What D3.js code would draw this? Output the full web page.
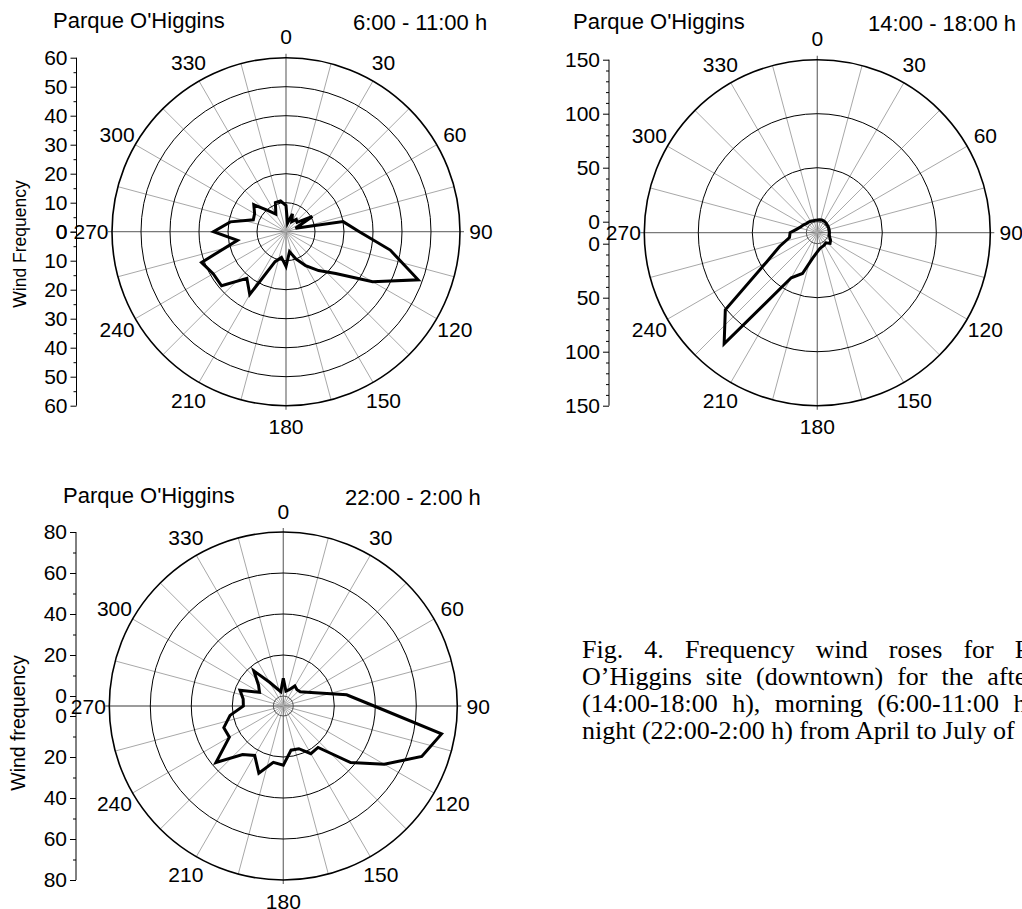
<!DOCTYPE html>
<html>
<head>
<meta charset="utf-8">
<script src="https://cdn.jsdelivr.net/npm/d3@7"></script>
<style>
  html, body { margin: 0; padding: 0; background: #fff; overflow: hidden; width: 1022px; height: 909px; }
  svg { position: absolute; left: 0; top: 0; }
  #caption {
    position: absolute; left: 582px; top: 636px; width: 505px;
    font-family: "Liberation Serif", "Times New Roman", serif;
    font-size: 26px; line-height: 27px; text-align: justify; color: #000;
  }
</style>
</head>
<body>
<svg id="chart" width="1022" height="909"></svg>
<div id="caption">Fig. 4. Frequency wind roses for Parque O’Higgins site (downtown) for the afternoon (14:00-18:00 h), morning (6:00-11:00 h) and night (22:00-2:00 h) from April to July of</div>
<script>
// --- data ---
const directions = [0, 10, 20, 30, 40, 50, 60, 70, 80, 90, 100, 110, 120, 130, 140, 150, 160, 170,
  180, 190, 200, 210, 220, 230, 240, 250, 260, 270, 280, 290, 300, 310, 320, 330, 340, 350];

// 6:00 - 11:00 h
const morningFreq = [9, 3, 6.5, 4, 5.5, 5, 10.5, 3.5, 20, 25.3, 36.5, 48.5, 34.5, 22.4, 17.5, 13.5, 10, 7,
  12, 9, 11, 25, 21, 29, 29, 31, 17, 25, 19.5, 12, 12.5, 14.5, 9.5, 7, 10.7, 10.8];

// 14:00 - 18:00 h
const afternoonFreq = [1.5, 2, 2.3, 2.3, 2, 1.5, 1.4, 1.2, 1.1, 1.1, 1.1, 2, 4, 5.2, 2, 3, 3.5, 4.5,
  7.6, 13.5, 30, 38, 124, 101, 44, 27, 16, 15, 9, 6, 4.5, 3, 2.5, 2, 1.5, 1.5];

// 22:00 - 2:00 h
const nightFreq = [8.6, 2.5, 3.6, 6.4, 5.5, 5.9, 8.6, 13.6, 26.5, 39.4, 73.5, 67, 52, 38, 21.5, 22, 17.3, 17,
  24, 23, 30, 23, 26, 38, 25.5, 26, 21.5, 14.6, 15, 17.6, 8.5, 10.9, 17.5, 8.5, 4.2, 2.2];

const compassLabels = [0, 30, 60, 90, 120, 150, 180, 210, 240, 270, 300, 330];
const spokeAngles = [0, 15, 30, 45, 60, 75, 90, 105, 120, 135, 150, 165, 180, 195, 210, 225, 240, 255,
  270, 285, 300, 315, 330, 345];

const morningTicks = [0, 10, 20, 30, 40, 50, 60];
const morningMinor = [5, 15, 25, 35, 45, 55];
const afternoonTicks = [0, 50, 100, 150];
const afternoonMinor = [10, 20, 30, 40, 60, 70, 80, 90, 110, 120, 130, 140];
const nightTicks = [0, 20, 40, 60, 80];
const nightMinor = [10, 30, 50, 70];

const sans = '"Liberation Sans", Arial, sans-serif';
const svg = d3.select('#chart');

// 面板布局
const panels = [
  { values: morningFreq, ticks: morningTicks, minor: morningMinor, max: 60,
    cx: 286, cy: 231.7, R: 174, hole: 0, axisX: 76.5,
    titleX: 53, timeX: 353, time: '6:00 - 11:00 h',
    yLabel: 'Wind Frequency', yLabelX: 20, yLabelY: 244, yLabelSize: 17.5 },
  { values: afternoonFreq, ticks: afternoonTicks, minor: afternoonMinor, max: 150,
    cx: 817.3, cy: 232.7, R: 173, hole: 11, axisX: 609,
    titleX: 573, timeX: 868, time: '14:00 - 18:00 h',
    yLabel: null },
  { values: nightFreq, ticks: nightTicks, minor: nightMinor, max: 80,
    cx: 283.3, cy: 706, R: 174, hole: 10, axisX: 76,
    titleX: 63, timeX: 345, time: '22:00 - 2:00 h',
    yLabel: 'Wind frequency', yLabelX: 18, yLabelY: 723, yLabelSize: 19.5 }
];

panels.forEach(drawRose);

function drawRose(p) {
  const r = d3.scaleLinear().domain([0, p.max]).range([p.hole, p.R]);
  const g = svg.append('g');
  const c = g.append('g').attr('transform', `translate(${p.cx},${p.cy})`);
  const toRad = a => a * Math.PI / 180;

  // spokes
  spokeAngles.forEach(a => {
    const cardinal = a % 90 === 0;
    const [x2, y2] = d3.pointRadial(toRad(a), p.R + (cardinal ? 4 : 0));
    c.append('line')
      .attr('x1', 0).attr('y1', 0).attr('x2', x2).attr('y2', y2)
      .attr('stroke', cardinal ? '#7a7a7a' : '#a8a8a8')
      .attr('stroke-width', cardinal ? 1.3 : 1);
  });

  // rings
  const ringVals = p.ticks.filter(t => t > 0 || p.hole > 0);
  c.selectAll('circle.ring')
    .data(ringVals)
    .enter().append('circle')
    .attr('class', 'ring')
    .attr('r', d => r(d))
    .attr('fill', 'none')
    .attr('stroke', d => d === 0 ? '#555' : '#000')
    .attr('stroke-width', d => d === p.max ? 1.6 : 1);

  // data polygon
  const line = d3.lineRadial()
    .angle((d, i) => toRad(directions[i]))
    .radius(d => r(d))
    .curve(d3.curveLinearClosed);
  c.append('path')
    .attr('d', line(p.values))
    .attr('fill', 'none')
    .attr('stroke', '#000')
    .attr('stroke-width', 3)
    .attr('stroke-linejoin', 'miter');

  // compass labels
  c.selectAll('text.dir')
    .data(compassLabels)
    .enter().append('text')
    .attr('class', 'dir')
    .attr('x', d => d3.pointRadial(toRad(d), p.R + 21)[0])
    .attr('y', d => d3.pointRadial(toRad(d), p.R + 21)[1])
    .attr('text-anchor', 'middle')
    .attr('dominant-baseline', 'central')
    .attr('font-family', sans)
    .attr('font-size', 21)
    .text(d => d);

  // left radial axis (upper and lower halves)
  const yUp = d3.scaleLinear().domain([0, p.max]).range([p.cy - p.hole, p.cy - p.R]);
  const yDown = d3.scaleLinear().domain([0, p.max]).range([p.cy + p.hole, p.cy + p.R]);
  const ax = g.append('g').attr('transform', `translate(${p.axisX},0)`);
  [yUp, yDown].forEach(s => {
    const minor = ax.append('g').call(d3.axisLeft(s).tickValues(p.minor).tickSize(3).tickSizeOuter(0).tickFormat(''));
    minor.select('.domain').remove();
    const major = ax.append('g').call(d3.axisLeft(s).tickValues(p.ticks).tickSize(6).tickSizeOuter(0).tickPadding(3).tickFormat(d3.format('d')));
    major.select('.domain').remove();
    major.selectAll('text').attr('font-family', sans).attr('font-size', 21).attr('fill', '#000');
  });
  ax.selectAll('line').attr('stroke', '#000');
  ax.append('line')
    .attr('x1', 0).attr('x2', 0)
    .attr('y1', p.cy - p.R).attr('y2', p.cy + p.R)
    .attr('stroke', '#000');

  // titles
  g.append('text')
    .attr('x', p.titleX).attr('y', p.cy - 203.5)
    .attr('font-family', sans).attr('font-size', 22)
    .text("Parque O'Higgins");
  g.append('text')
    .attr('x', p.timeX).attr('y', p.cy - 201.5)
    .attr('font-family', sans).attr('font-size', 22)
    .text(p.time);

  if (p.yLabel) {
    g.append('text')
      .attr('transform', `translate(${p.yLabelX},${p.yLabelY}) rotate(-90)`)
      .attr('text-anchor', 'middle')
      .attr('dominant-baseline', 'central')
      .attr('font-family', sans).attr('font-size', p.yLabelSize)
      .text(p.yLabel);
  }
}
</script>
</body>
</html>
